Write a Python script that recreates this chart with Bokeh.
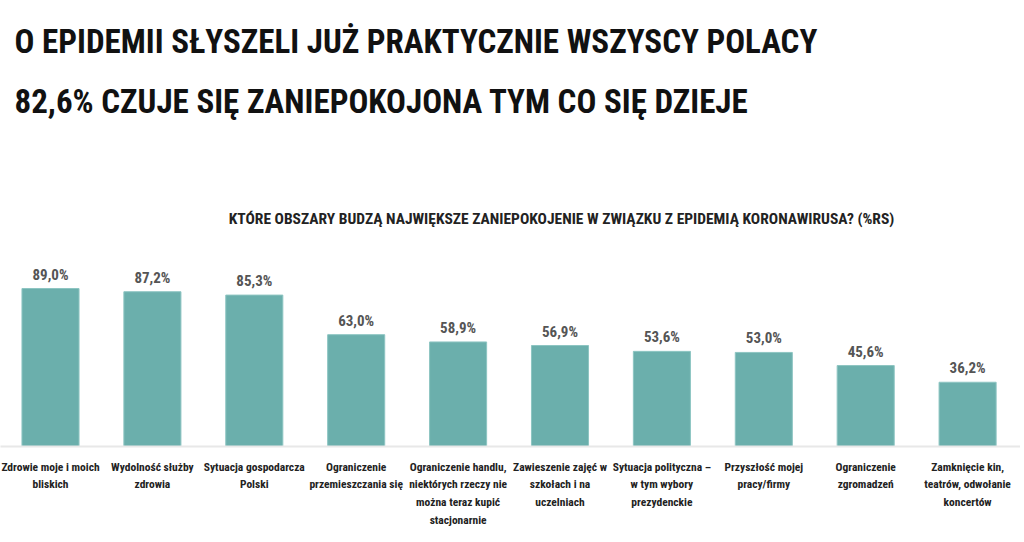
from bokeh.plotting import figure
from bokeh.models import ColumnDataSource, Range1d, FixedTicker, Label
from bokeh.core.properties import value
from bokeh.embed import file_html
from bokeh.resources import INLINE

categories = [
    "Zdrowie moje i moich\nbliskich",
    "Wydolność służby\nzdrowia",
    "Sytuacja gospodarcza\nPolski",
    "Ograniczenie\nprzemieszczania się",
    "Ograniczenie handlu,\nniektórych rzeczy nie\nmożna teraz kupić\nstacjonarnie",
    "Zawieszenie zajęć w\nszkołach i na\nuczelniach",
    "Sytuacja polityczna –\nw tym wybory\nprezydenckie",
    "Przyszłość mojej\npracy/firmy",
    "Ograniczenie\nzgromadzeń",
    "Zamknięcie kin,\nteatrów, odwołanie\nkoncertów",
]
values = [89.0, 87.2, 85.3, 63.0, 58.9, 56.9, 53.6, 53.0, 45.6, 36.2]
title_line1 = "O EPIDEMII SŁYSZELI JUŻ PRAKTYCZNIE WSZYSCY POLACY"
title_line2 = "82,6% CZUJE SIĘ ZANIEPOKOJONA TYM CO SIĘ DZIEJE"
subtitle = "KTÓRE OBSZARY BUDZĄ NAJWIĘKSZE ZANIEPOKOJENIE W ZWIĄZKU Z EPIDEMIĄ KORONAWIRUSA? (%RS)"

FONT = "Roboto Condensed"

xs = list(range(len(categories)))
labels = [f"{v:.1f}".replace(".", ",") + "%" for v in values]
src = ColumnDataSource(dict(x=xs, top=values, label=labels))

W = 1020
BASE = 446                 # page y of the zero line
BOTTOM = 94
PXY = 1.775                # px per percent
PXX = 101.9                # px per category
X0 = -50 / PXX
ymax = BASE / PXY

p = figure(frame_width=W, frame_height=BASE, output_backend="svg", toolbar_location=None,
           x_range=Range1d(X0, X0 + W / PXX), y_range=Range1d(0, ymax),
           min_border_left=0, min_border_right=0, min_border_top=0,
           min_border_bottom=BOTTOM, tools="")
p.background_fill_color = "white"
p.border_fill_color = "white"
p.outline_line_color = None
p.xgrid.visible = False
p.ygrid.visible = False
p.yaxis.visible = False

p.vbar(x="x", top="top", width=0.56, bottom=0, source=src,
       fill_color="#6BAFAC", line_color="#8DC5C2", line_width=1)

p.text(x="x", y="top", text="label", source=src, text_align="center",
       text_baseline="bottom", y_offset=-5, text_font=value(FONT),
       text_font_size="15px", text_font_style="bold", text_color="#555555")

ax = p.xaxis[0]
ax.ticker = FixedTicker(ticks=xs)
ax.major_label_overrides = {i: c for i, c in enumerate(categories)}
ax.major_tick_line_color = None
ax.minor_tick_line_color = None
ax.axis_line_color = "#e8e8e8"
ax.axis_line_width = 2
ax.major_label_standoff = 7
ax.major_label_text_font = FONT
ax.major_label_text_font_size = "11.5px"
ax.major_label_text_font_style = "bold"
ax.major_label_text_color = "#222222"
ax.major_label_text_align = "center"
ax.major_label_text_line_height = 1.27


def ydata(page_y):
    return (BASE - page_y) / PXY


def xdata(page_x):
    return X0 + page_x / PXX


p.add_layout(Label(x=xdata(14), y=ydata(41), text=title_line1, text_font=FONT,
                   text_font_size="33px", text_font_style="bold", text_color="#111111",
                   text_baseline="middle"))
p.add_layout(Label(x=xdata(14), y=ydata(101), text=title_line2, text_font=FONT,
                   text_font_size="33px", text_font_style="bold", text_color="#111111",
                   text_baseline="middle"))
p.add_layout(Label(x=xdata(561), y=ydata(218), text=subtitle, text_font=FONT,
                   text_font_size="15.5px", text_font_style="bold", text_color="#222222",
                   text_align="center", text_baseline="middle"))

open("out.html", "w").write(file_html(p, INLINE))
